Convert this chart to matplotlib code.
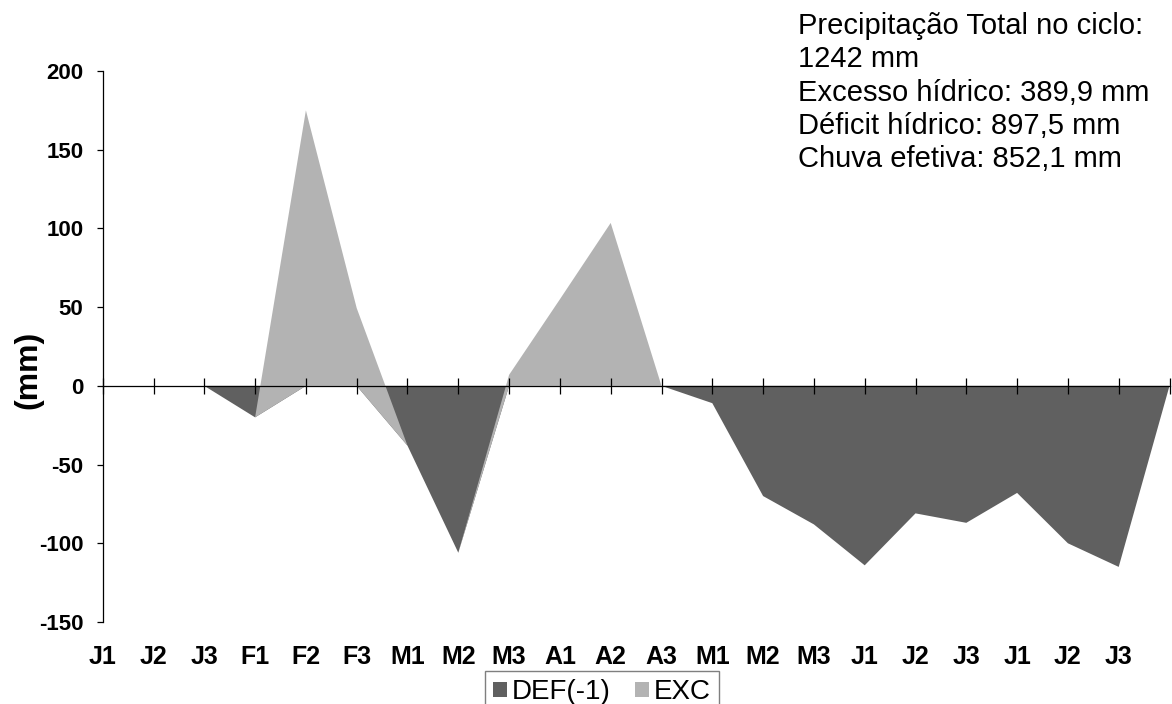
import matplotlib
matplotlib.use("Agg")
import matplotlib.pyplot as plt
from matplotlib.patches import Patch

# periods (decendios) - last slot is an empty category, like in the sheet
categories = ['J1', 'J2', 'J3', 'F1', 'F2', 'F3', 'M1', 'M2', 'M3', 'A1', 'A2', 'A3',
              'M1', 'M2', 'M3', 'J1', 'J2', 'J3', 'J1', 'J2', 'J3', '']
deficit = [0, 0, 0, -20, 0, 0, -38, -106, 0, 0, 0, 0,
           -11, -70, -88, -114, -81, -87, -68, -100, -115, 0]
excess = [0, 0, 0, 0, 175, 49.4, 0, 0, 7, 55, 103.5, 0,
          0, 0, 0, 0, 0, 0, 0, 0, 0, 0]
y_ticks = [-150, -100, -50, 0, 50, 100, 150, 200]
series_names = ['DEF(-1)', 'EXC']
summary = ("Precipitação Total no ciclo:\n1242 mm\nExcesso hídrico: 389,9 mm\n"
           "Déficit hídrico: 897,5 mm\nChuva efetiva: 852,1 mm")

dark = '#606060'
light = '#b3b3b3'

plt.rcParams['font.family'] = ['Liberation Sans', 'DejaVu Sans']

W, H = 1172, 704
fig = plt.figure(figsize=(W / 100, H / 100), dpi=100)
ax = fig.add_axes([102.7 / W, 82 / H, 1066.8 / W, 551 / H])

x = list(range(len(categories)))
ax.stackplot(x, deficit, excess, colors=[dark, light], linewidth=0)

ax.set_xlim(0, len(categories) - 1)
ax.set_ylim(-150, 200)

for s in ['top', 'right']:
    ax.spines[s].set_visible(False)
ax.spines['bottom'].set_position(('data', 0))
ax.spines['bottom'].set_linewidth(0.9)
ax.spines['left'].set_linewidth(0.9)

ax.set_xticks(x)
ax.tick_params(axis='x', direction='inout', length=11.5, width=0.9, labelbottom=False)
ax.set_yticks(y_ticks, labels=[str(v) for v in y_ticks], fontsize=16, fontweight='bold')
ax.tick_params(axis='y', direction='out', length=4, width=0.9, pad=10)

# category labels sit at the bottom of the plot, not on the zero line
for k, lab in enumerate(categories):
    ax.text(k, -42 / 551, lab, transform=ax.get_xaxis_transform(),
            ha='center', va='baseline', fontsize=18, fontweight='bold')

fig.text(28 / W, 1 - 370 / H, '(mm)', rotation=90, ha='center', va='center',
         fontsize=23, fontweight='bold')

fig.text(798 / W, 1 - 12 / H, summary, ha='left', va='top',
         fontsize=21, linespacing=1.24)

handles = [Patch(facecolor=dark, edgecolor='none'), Patch(facecolor=light, edgecolor='none')]
leg = fig.legend(handles, series_names, loc='upper left',
                 bbox_to_anchor=(485 / W, 1 - 671 / H), ncol=2, fontsize=20,
                 frameon=True, fancybox=False, edgecolor='#7f7f7f', framealpha=1,
                 borderaxespad=0, borderpad=0.3, handlelength=0.5, handleheight=0.5,
                 handletextpad=0.15, columnspacing=0.9)
leg.get_frame().set_linewidth(1.0)

plt.savefig('out.png', dpi=100)
